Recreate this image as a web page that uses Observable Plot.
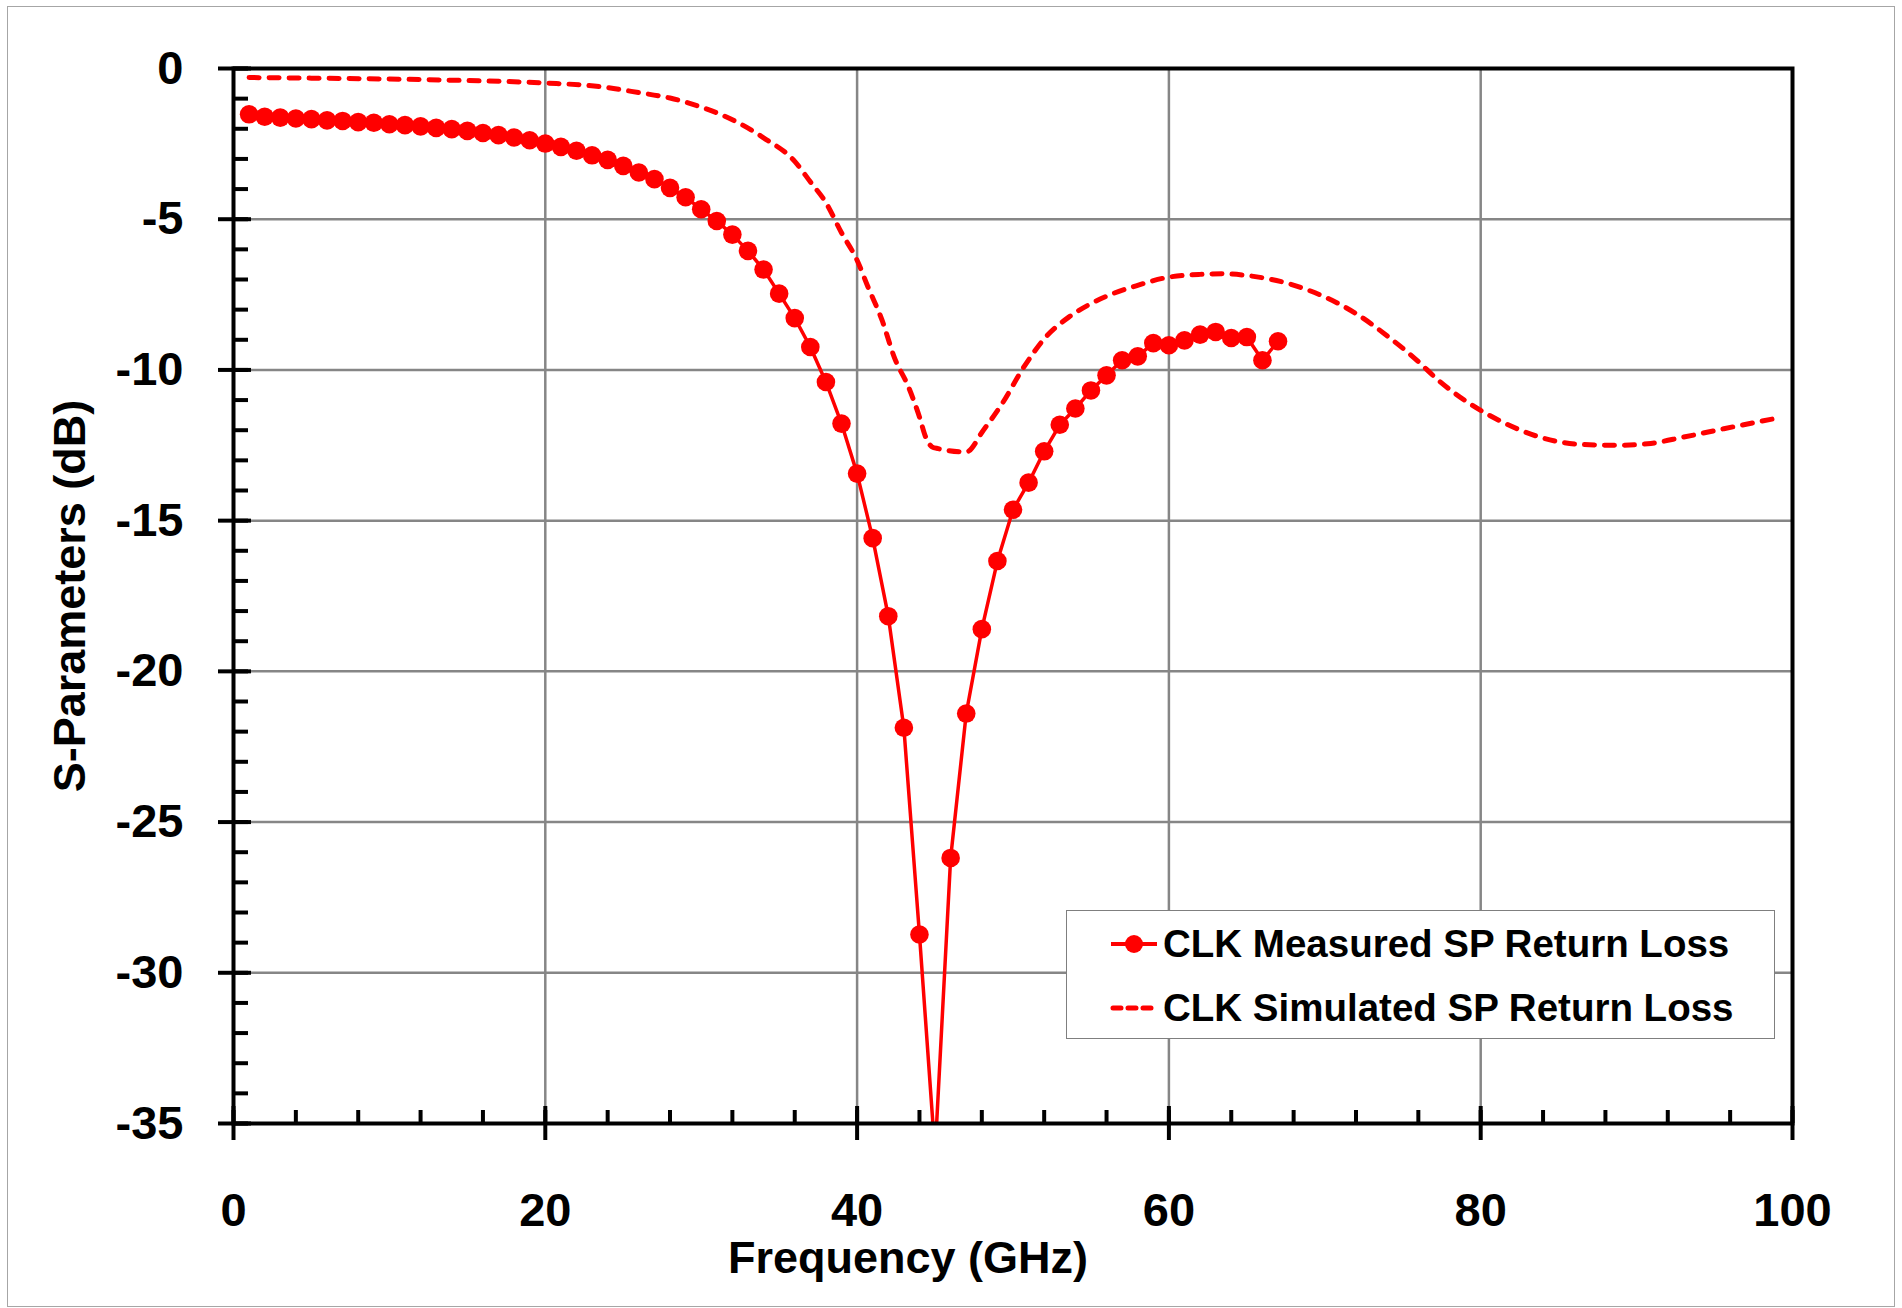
<!DOCTYPE html>
<html><head><meta charset="utf-8">
<script src="https://cdn.jsdelivr.net/npm/d3@7"></script>
<script src="https://cdn.jsdelivr.net/npm/@observablehq/plot@0.6"></script>
<style>
body{margin:0;background:#fff;}
#wrap{position:relative;width:1902px;height:1308px;font-family:"Liberation Sans",Arial,sans-serif;}
#border{position:absolute;left:7px;top:6px;width:1886px;height:1299px;border:1.5px solid #a6a6a6;pointer-events:none;}
#legend{position:absolute;left:1066px;top:910px;width:707px;height:127px;border:1.5px solid #7f7f7f;background:#fff;}
.row{position:absolute;left:43px;height:40px;display:flex;align-items:center;}
.row span{font-weight:bold;font-size:38.5px;color:#000;margin-left:5px;white-space:nowrap;}
</style></head>
<body>
<div id="wrap"><div id="border"></div></div>
<script>
const measuredFreq = [1,2,3,4,5,6,7,8,9,10,11,12,13,14,15,16,17,18,19,20,21,22,23,24,25,26,27,28,29,30,31,32,33,34,35,36,37,38,39,40,41,42,43,44,45,46,47,48,49,50,51,52,53,54,55,56,57,58,59,60,61,62,63,64,65,66,67];
const measuredDb = [-1.52,-1.60,-1.63,-1.66,-1.68,-1.72,-1.74,-1.78,-1.80,-1.85,-1.88,-1.92,-1.97,-2.01,-2.07,-2.14,-2.21,-2.29,-2.38,-2.49,-2.60,-2.73,-2.88,-3.03,-3.23,-3.45,-3.67,-3.96,-4.27,-4.67,-5.06,-5.51,-6.05,-6.67,-7.47,-8.28,-9.24,-10.40,-11.78,-13.44,-15.58,-18.17,-21.87,-28.73,-36.0,-26.19,-21.40,-18.6,-16.34,-14.64,-13.74,-12.7,-11.82,-11.28,-10.68,-10.18,-9.68,-9.55,-9.11,-9.18,-9.02,-8.83,-8.74,-8.94,-8.91,-9.68,-9.05];
const simFreq = [1,5,10,15,20,23.5,26,28,30,32,34,36,37,38,39,40,40.7,41.6,42.4,43.3,44,44.4,44.8,45.2,47,48.1,49.3,50.7,52.1,53.6,55,56.4,57.9,59.8,62,63.5,65.2,67.7,70,72,74.1,75.8,77.3,79.3,81.6,83.8,86.4,88.7,90.7,93,95.6,99.2];
const simDb = [-0.30,-0.32,-0.35,-0.40,-0.48,-0.60,-0.80,-0.98,-1.28,-1.70,-2.30,-3.08,-3.76,-4.45,-5.45,-6.36,-7.25,-8.35,-9.60,-10.57,-11.56,-12.23,-12.55,-12.61,-12.72,-12.0,-11.12,-9.90,-8.91,-8.24,-7.80,-7.47,-7.21,-6.94,-6.83,-6.81,-6.88,-7.14,-7.58,-8.13,-8.91,-9.63,-10.35,-11.12,-11.78,-12.23,-12.47,-12.50,-12.45,-12.23,-11.95,-11.58];
const seriesNames = ["CLK Measured SP Return Loss", "CLK Simulated SP Return Loss"];
const xTicks = [0,20,40,60,80,100];
const yTicks = [0,-5,-10,-15,-20,-25,-30,-35];
const xGridVals = [20,40,60,80];
const yGridVals = [-5,-10,-15,-20,-25,-30];
const xMinor = d3.range(0,101,4);
const yMinor = d3.range(-35,1,1);
const xLabel = "Frequency (GHz)";
const yLabel = "S-Parameters (dB)";

const measured = measuredFreq.map((f,i)=>({f, v: measuredDb[i]}));
const simulated = simFreq.map((f,i)=>({f, v: simDb[i]}));

const W=1902, H=1308, mL=233, mT=68, mR=110, mB=185;
const plotW = W-mL-mR, plotH = H-mT-mB;
const RED = "#ff0000";
const fmt = d => String(d);

const chart = Plot.plot({
  width: W, height: H,
  marginLeft: mL, marginTop: mT, marginRight: mR, marginBottom: mB,
  x: {domain: [0,100]},
  y: {domain: [-35,0]},
  style: {fontFamily: '"Liberation Sans", Arial, sans-serif', fontWeight: "bold", fontSize: "47px", color: "#000", background: "transparent"},
  marks: [
    Plot.gridX(xGridVals, {stroke: "#868686", strokeOpacity: 1, strokeWidth: 2.5}),
    Plot.gridY(yGridVals, {stroke: "#868686", strokeOpacity: 1, strokeWidth: 2.5}),
    Plot.line(simulated, {x: "f", y: "v", stroke: RED, strokeWidth: 5, strokeDasharray: "10,10", strokeLinecap: "round", curve: "monotone-x", clip: true}),
    Plot.line(measured, {x: "f", y: "v", stroke: RED, strokeWidth: 3.5, clip: true}),
    Plot.dot(measured, {x: "f", y: "v", r: 9.3, fill: RED, stroke: null, clip: true}),
    Plot.frame({stroke: "#000", strokeWidth: 4}),
    Plot.tickY(yMinor, {y: d => d, stroke: "#000", strokeWidth: 4, insetRight: plotW - 15}),
    Plot.tickY(yTicks, {y: d => d, stroke: "#000", strokeWidth: 4, insetRight: plotW - 18}),
    Plot.tickX(xMinor, {x: d => d, stroke: "#000", strokeWidth: 4, insetTop: plotH - 13}),
    Plot.tickX(xTicks, {x: d => d, stroke: "#000", strokeWidth: 4, insetTop: plotH - 17}),
    Plot.axisY(yTicks, {anchor: "left", tickSize: 15, tickPadding: 35, strokeWidth: 4, tickFormat: fmt, fontSize: 47, fontWeight: "bold", label: null}),
    Plot.axisX(xTicks, {anchor: "bottom", tickSize: 17, tickPadding: 52, strokeWidth: 4, tickFormat: fmt, fontSize: 47, fontWeight: "bold", label: null}),
    Plot.text([yLabel], {frameAnchor: "left", textAnchor: "middle", lineAnchor: "middle", rotate: -90, dx: -163, fontSize: 45, fontWeight: "bold", fill: "#000"}),
    Plot.text([xLabel], {frameAnchor: "bottom", textAnchor: "middle", lineAnchor: "middle", dx: -105, dy: 135, fontSize: 45, fontWeight: "bold", fill: "#000"})
  ]
});
const wrap = document.getElementById("wrap");
wrap.insertBefore(chart, wrap.firstChild);

// legend
const legend = document.createElement("div");
legend.id = "legend";
const rowsTop = [13, 77];
seriesNames.forEach((name, i) => {
  const row = document.createElement("div");
  row.className = "row";
  row.style.top = rowsTop[i] + "px";
  const sw = i === 0
    ? `<svg width="48" height="24"><line x1="1" y1="12" x2="47" y2="12" stroke="${RED}" stroke-width="4"/><circle cx="24" cy="12" r="9" fill="${RED}"/></svg>`
    : `<svg width="48" height="24"><line x1="3" y1="12" x2="47" y2="12" stroke="${RED}" stroke-width="5" stroke-dasharray="8,7" stroke-linecap="round"/></svg>`;
  row.innerHTML = sw + `<span>${name}</span>`;
  legend.appendChild(row);
});
wrap.appendChild(legend);
</script>
</body></html>
